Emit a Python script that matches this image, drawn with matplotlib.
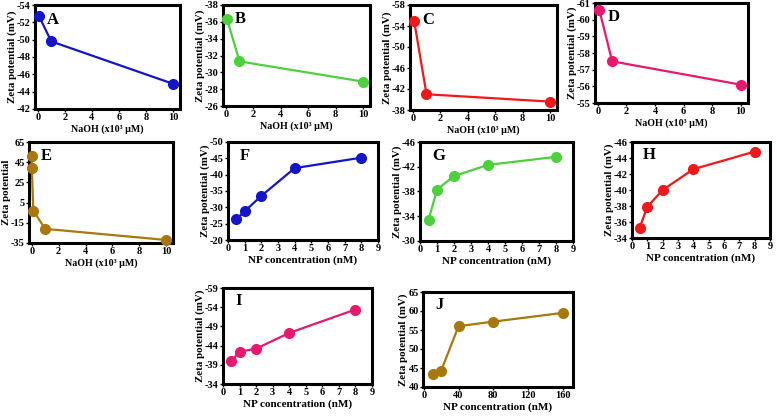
import matplotlib
matplotlib.use("Agg")
import matplotlib.pyplot as plt
import numpy as np

plt.rcParams['font.family'] = ['Liberation Serif', 'DejaVu Serif']
plt.rcParams['font.weight'] = 'bold'

# ---- data ----
naoh_x = [0.1, 1, 10]
A_y = [-52.7, -49.8, -44.9]
B_y = [-36.3, -31.3, -28.9]
C_y = [-55.0, -41.0, -39.6]
D_y = [-60.6, -57.5, -56.1]
E_x = [0.0, 0.01, 0.12, 1, 10]
E_y = [51, 39, -3, -21, -32]
np_x = [0.5, 1, 2, 4, 8]
F_y = [-26.3, -28.8, -33.5, -42.0, -45.2]
G_y = [-33.4, -38.3, -40.5, -42.3, -43.6]
H_y = [-35.3, -37.9, -40.0, -42.6, -44.8]
I_y = [-40.0, -42.4, -43.2, -47.3, -53.4]
J_x = [10, 20, 40, 80, 160]
J_y = [43.4, 44.3, 56.0, 57.2, 59.5]

blue = '#1414C8'
green = '#4CD13C'
red = '#F01818'
pink = '#E8186E'
brown = '#A8780E'

W, H = 777, 420
fig = plt.figure(figsize=(W/100, H/100), dpi=100)

def ax_px(l, t, r, b):
    return fig.add_axes([l/W, 1-b/H, (r-l)/W, (b-t)/H])

naoh_label = 'NaOH (x10³ µM)'
np_label = 'NP concentration (nM)'
zl = 'Zeta potential (mV)'

panels = [
    ('A', (35, 5, 180, 109), naoh_x, A_y, blue, (-0.2, 10.5), np.arange(0, 11, 2), (-42, -54), np.arange(-54, -41, 2), naoh_label, zl),
    ('B', (223, 5, 370, 106), naoh_x, B_y, green, (-0.2, 10.5), np.arange(0, 11, 2), (-26, -38), np.arange(-38, -25, 2), naoh_label, zl),
    ('C', (410, 5, 557, 110), naoh_x, C_y, red, (-0.2, 10.5), np.arange(0, 11, 2), (-38, -58), np.arange(-58, -37, 4), naoh_label, zl),
    ('D', (595, 3, 748, 103), naoh_x, D_y, pink, (-0.2, 10.5), np.arange(0, 11, 2), (-55, -61), np.arange(-61, -54, 1), naoh_label, zl),
    ('E', (29, 142, 173, 243), E_x, E_y, brown, (-0.2, 10.5), np.arange(0, 11, 2), (-35, 65), np.arange(-35, 66, 20), naoh_label, 'Zeta potential'),
    ('F', (228, 142, 378, 240), np_x, F_y, blue, (0, 9), np.arange(0, 10, 1), (-20, -50), np.arange(-50, -19, 5), np_label, zl),
    ('G', (420, 142, 573, 241), np_x, G_y, green, (0, 9), np.arange(0, 10, 1), (-30, -46), np.arange(-46, -29, 4), np_label, zl),
    ('H', (632, 142, 770, 238), np_x, H_y, red, (0, 9), np.arange(0, 10, 1), (-34, -46), np.arange(-46, -33, 2), np_label, zl),
    ('I', (223, 288, 372, 384), np_x, I_y, pink, (0, 9), np.arange(0, 10, 1), (-34, -59), np.arange(-59, -33, 5), np_label, zl),
    ('J', (423, 292, 573, 387), J_x, J_y, brown, (-1, 172), np.arange(0, 161, 40), (40, 65), np.arange(40, 66, 5), np_label, zl),
]

for letter, bb, x, y, c, xl, xt, yl, yt, xlab, ylab in panels:
    ax = ax_px(*bb)
    ax.plot(x, y, color=c, lw=1.6, marker='o', ms=7, mfc=c, mec=c, clip_on=False, zorder=3)
    ax.set_xlim(*xl)
    ax.set_ylim(yl[0], yl[1])
    ax.set_xticks(xt)
    ax.set_yticks(yt)
    ax.set_xticklabels([str(int(v)) for v in xt])
    ax.set_yticklabels([str(int(v)) for v in yt])
    for s in ax.spines.values():
        s.set_linewidth(2.2)
        s.set_color('black')
    ax.tick_params(direction='out', length=2, width=1.0, labelsize=7.5, pad=1)
    for t in ax.get_xticklabels() + ax.get_yticklabels():
        t.set_fontweight('bold')
    xfs = 7.2 if xlab == naoh_label else 8.0
    ax.set_xlabel(xlab, fontsize=xfs, fontweight='bold', labelpad=1.5)
    ax.set_ylabel(ylab, fontsize=7.8, fontweight='bold', labelpad=0)
    ax.text(0.08, 0.86, letter, transform=ax.transAxes, fontsize=12, fontweight='bold',
            ha='left', va='center')

fig.savefig('out.png', dpi=100)
